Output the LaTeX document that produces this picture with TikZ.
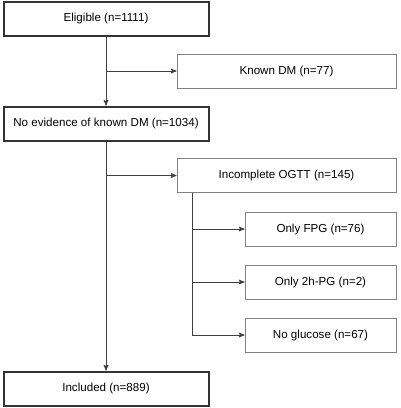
\documentclass[tikz,border=0pt]{standalone}
\usepackage{fontspec}
\setmainfont{Liberation Sans}
\usepackage{tikz}
\usetikzlibrary{arrows,positioning,shapes}
\usetikzlibrary{calc}

\begin{document}
\begin{tikzpicture}[x=1pt,y=-1pt,
  every node/.style={align=center,font=\fontsize{11.6}{14}\selectfont,inner sep=0pt},
  mainbox/.style={draw=black!80,line width=2pt,minimum width=205pt,minimum height=34pt},
  sidebox/.style={draw=black!50,line width=1pt,minimum width=219pt,minimum height=34pt},
  subbox/.style={sidebox,minimum width=151pt},
  to/.style={->,>=stealth',shorten >=0pt,line width=1pt,draw=black!75}]

    \useasboundingbox (0,0) rectangle (400,408);

    % main column
    \node[mainbox] (elig) at (106,18.5) {Eligible (n=1111)};
    \node[mainbox] (noev) at (106,123.5) {No evidence of known DM (n=1034)};
    \node[mainbox] (incl) at (106,388.5) {Included (n=889)};

    % exclusions
    \node[sidebox] (known) at (286.5,71) {Known DM (n=77)};
    \node[sidebox] (ogtt) at (286.5,175.5) {Incomplete OGTT (n=145)};
    \node[subbox] (fpg) at (320.5,229) {Only FPG (n=76)};
    \node[subbox] (pg) at (320.5,282) {Only 2h-PG (n=2)};
    \node[subbox] (nogl) at (320.5,335) {No glucose (n=67)};

    \coordinate (k) at (elig.south |- known.west);
    \coordinate (o) at (noev.south |- ogtt.west);
    \coordinate (s) at (192,0);

    \draw[to](elig) -- (noev);
    \draw[to](noev) -- (incl);
    \draw[to](k) -- (known);
    \draw[to](o) -- (ogtt);
    \draw[to,-](ogtt.south -| s) -- (s |- nogl.west);
    \draw[to](s |- fpg.west) -- (fpg);
    \draw[to](s |- pg.west) -- (pg);
    \draw[to](s |- nogl.west) -- (nogl);
\end{tikzpicture}
\end{document}
